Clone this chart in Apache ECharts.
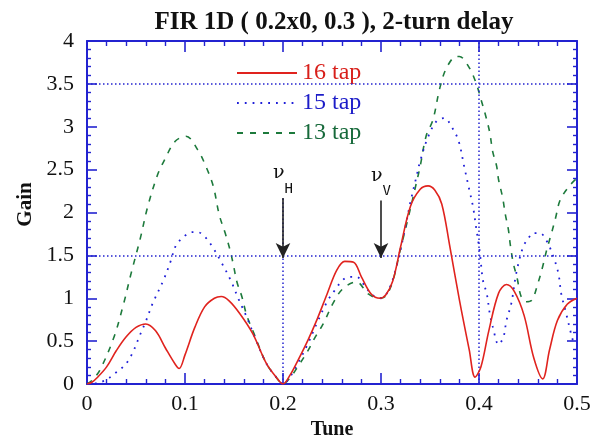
<!DOCTYPE html>
<html><head><meta charset="utf-8">
<script src="https://cdn.jsdelivr.net/npm/echarts@6/dist/echarts.min.js"></script>
<style>html,body{margin:0;padding:0;background:#fff}#c{width:594px;height:441px}</style>
</head><body><div id="c"></div>
<script>
// ---- data ----
const titleText = 'FIR 1D ( 0.2x0, 0.3 ), 2-turn delay';
const seriesNames = ['16 tap', '15 tap', '13 tap'];
const xTicks = [0, 0.1, 0.2, 0.3, 0.4, 0.5];
const yTicks = [0, 0.5, 1, 1.5, 2, 2.5, 3, 3.5, 4];

const tune16 = [0, 0.005, 0.01, 0.02, 0.03, 0.04, 0.05, 0.06, 0.07, 0.08, 0.09, 0.094, 0.10, 0.11, 0.12, 0.13, 0.137, 0.145, 0.156, 0.169, 0.183, 0.193, 0.2, 0.207, 0.215, 0.225, 0.235, 0.245, 0.255, 0.263, 0.272, 0.28, 0.29, 0.299, 0.305, 0.312, 0.32, 0.33, 0.34, 0.348, 0.355, 0.362, 0.37, 0.38, 0.39, 0.396, 0.402, 0.41, 0.42, 0.428, 0.436, 0.446, 0.456, 0.465, 0.472, 0.48, 0.49, 0.5];
const gain16 = [0, 0.02, 0.07, 0.2, 0.39, 0.55, 0.66, 0.70, 0.62, 0.42, 0.23, 0.18, 0.34, 0.66, 0.90, 1.0, 1.02, 0.97, 0.82, 0.59, 0.24, 0.08, 0, 0.1, 0.27, 0.5, 0.76, 1.05, 1.33, 1.43, 1.42, 1.25, 1.05, 1.0, 1.04, 1.2, 1.6, 2.07, 2.27, 2.31, 2.26, 2.1, 1.62, 0.98, 0.4, 0.08, 0.2, 0.62, 1.06, 1.16, 1.08, 0.8, 0.3, 0.06, 0.4, 0.74, 0.93, 1.0];

const tune15 = [0, 0.01, 0.02, 0.028, 0.035, 0.042, 0.048, 0.054, 0.06, 0.067, 0.078, 0.085, 0.091, 0.1, 0.107, 0.113, 0.12, 0.128, 0.138, 0.147, 0.155, 0.163, 0.17, 0.183, 0.193, 0.2, 0.207, 0.215, 0.225, 0.235, 0.245, 0.252, 0.26, 0.267, 0.275, 0.283, 0.291, 0.3, 0.308, 0.316, 0.324, 0.33, 0.336, 0.34, 0.348, 0.357, 0.365, 0.372, 0.379, 0.385, 0.39, 0.394, 0.397, 0.399, 0.401, 0.404, 0.408, 0.411, 0.414, 0.42, 0.425, 0.428, 0.433, 0.438, 0.445, 0.45, 0.455, 0.462, 0.469, 0.476, 0.481, 0.484, 0.489, 0.493, 0.496, 0.5];
const gain15 = [0, 0.01, 0.05, 0.12, 0.18, 0.27, 0.4, 0.57, 0.73, 0.94, 1.21, 1.42, 1.62, 1.73, 1.77, 1.77, 1.72, 1.6, 1.4, 1.2, 0.98, 0.78, 0.58, 0.24, 0.08, 0, 0.08, 0.24, 0.46, 0.72, 0.96, 1.08, 1.2, 1.25, 1.25, 1.15, 1.04, 1.0, 1.1, 1.38, 1.78, 2.12, 2.41, 2.6, 2.88, 3.07, 3.10, 3.0, 2.84, 2.53, 2.27, 2.06, 1.83, 1.68, 1.52, 1.21, 1.05, 0.82, 0.67, 0.46, 0.55, 0.74, 0.94, 1.29, 1.6, 1.69, 1.76, 1.76, 1.67, 1.48, 1.29, 1.05, 0.82, 0.63, 0.51, 0.48];

const tune13 = [0, 0.005, 0.013, 0.027, 0.037, 0.045, 0.054, 0.062, 0.072, 0.079, 0.09, 0.101, 0.113, 0.122, 0.129, 0.135, 0.141, 0.146, 0.149, 0.153, 0.158, 0.163, 0.17, 0.183, 0.193, 0.2, 0.207, 0.215, 0.225, 0.233, 0.241, 0.251, 0.261, 0.275, 0.287, 0.298, 0.305, 0.312, 0.32, 0.328, 0.336, 0.34, 0.346, 0.353, 0.36, 0.367, 0.377, 0.38, 0.39, 0.397, 0.402, 0.407, 0.411, 0.414, 0.418, 0.42, 0.424, 0.427, 0.43, 0.432, 0.435, 0.439, 0.443, 0.448, 0.454, 0.46, 0.465, 0.469, 0.474, 0.478, 0.483, 0.493, 0.5];
const gain13 = [0, 0.04, 0.16, 0.53, 0.92, 1.29, 1.68, 2.07, 2.44, 2.61, 2.83, 2.89, 2.73, 2.52, 2.3, 1.97, 1.76, 1.56, 1.41, 1.19, 1.02, 0.8, 0.6, 0.24, 0.08, 0, 0.07, 0.2, 0.38, 0.55, 0.7, 0.94, 1.11, 1.19, 1.05, 1.0, 1.03, 1.2, 1.58, 1.95, 2.34, 2.54, 2.89, 3.08, 3.45, 3.69, 3.82, 3.82, 3.69, 3.51, 3.32, 3.12, 2.93, 2.71, 2.54, 2.38, 2.18, 1.97, 1.8, 1.62, 1.41, 1.23, 1.02, 0.96, 0.98, 1.17, 1.37, 1.56, 1.76, 1.93, 2.15, 2.32, 2.4];

// guide lines and tune markers
const hGuides = [1.5, 3.5];
const vGuideFull = 0.4;
const nuH = { tune: 0.2, from: 2.17, to: 1.47, sub: 'H' };
const nuV = { tune: 0.3, from: 2.14, to: 1.47, sub: 'V' };

// ---- styles ----
const serif = "'Liberation Serif', 'Times New Roman', serif";
const axisBlue = '#2323d0';
const colors = ['#e0231e', '#1f1fd8', '#1d7a3c'];
const textColors = ['#d81f1a', '#1c1cc8', '#16693a'];

const zip = (a, b) => a.map((v, i) => [v, b[i]]);

const chart = echarts.init(document.getElementById('c'), null, { renderer: 'canvas' });

function axisCommon(pos, showLabel, isX) {
  return {
    type: 'value',
    position: pos,
    min: isX ? xTicks[0] : yTicks[0],
    max: isX ? xTicks[xTicks.length - 1] : yTicks[yTicks.length - 1],
    interval: isX ? xTicks[1] - xTicks[0] : yTicks[1] - yTicks[0],
    axisLine: { show: true, onZero: false, lineStyle: { color: axisBlue, width: 2 } },
    axisTick: { show: true, inside: true, length: isX ? 11 : 10, lineStyle: { color: axisBlue, width: 1.6 } },
    minorTick: { show: true, splitNumber: 5, length: isX ? 5 : 4, lineStyle: { color: axisBlue, width: 1.4 } },
    splitLine: { show: false },
    axisLabel: {
      show: showLabel, color: '#111', fontFamily: serif, fontSize: 22,
      margin: isX ? 9 : 13
    }
  };
}

function nuLine(m) {
  return [
    { coord: [m.tune, m.from], symbol: 'none',
      label: { show: true, position: 'start', distance: 2, formatter: '{n|ν}{s|' + m.sub + '}',
        rich: {
          n: { fontFamily: "'DejaVu Serif', serif", fontSize: 19, color: '#111', lineHeight: 20, verticalAlign: 'top' },
          s: { fontFamily: "'DejaVu Sans Mono', monospace", fontSize: 14, color: '#111', lineHeight: 32, verticalAlign: 'bottom' }
        } } },
    { coord: [m.tune, m.to], symbol: 'arrow' }
  ];
}

const lineCommon = { type: 'line', symbol: 'none', smooth: 0.35 };

const option = {
  animation: false,
  backgroundColor: '#fff',
  title: {
    text: titleText, left: 329, top: 5, textAlign: 'center',
    textStyle: { fontFamily: serif, fontSize: 25, fontWeight: 'bold', color: '#111' }
  },
  grid: { left: 87, right: 17, top: 41, bottom: 57, containLabel: false, outerBoundsMode: 'none' },
  legend: {
    orient: 'vertical', left: 221, top: 57,
    padding: [4, 17, 4, 15], itemGap: 6, itemWidth: 60, itemHeight: 14,
    backgroundColor: '#fff',
    itemStyle: { opacity: 0 },
    data: seriesNames.map((n, i) => ({ name: n, textStyle: { color: textColors[i] } })),
    textStyle: { fontFamily: serif, fontSize: 24 }
  },
  xAxis: [
    Object.assign(axisCommon('bottom', true, true), {
      name: 'Tune', nameLocation: 'middle', nameGap: 35,
      nameTextStyle: { fontFamily: serif, fontSize: 20, fontWeight: 'bold', color: '#111' }
    }),
    axisCommon('top', false, true)
  ],
  yAxis: [
    Object.assign(axisCommon('left', true, false), {
      name: 'Gain', nameLocation: 'middle', nameGap: 50,
      nameTextStyle: { fontFamily: serif, fontSize: 21, fontWeight: 'bold', color: '#111', padding: [0, 0, 0, 16] }
    }),
    axisCommon('right', false, false)
  ],
  series: [
    Object.assign({ name: seriesNames[0], data: zip(tune16, gain16), z: 5,
      lineStyle: { color: colors[0], width: 1.6 }, itemStyle: { color: colors[0] } }, lineCommon),
    Object.assign({ name: seriesNames[1], data: zip(tune15, gain15), z: 4,
      lineStyle: { color: colors[1], width: 1.8, type: [1.8, 6] }, itemStyle: { color: colors[1] } }, lineCommon),
    Object.assign({ name: seriesNames[2], data: zip(tune13, gain13), z: 3,
      lineStyle: { color: colors[2], width: 1.6, type: [6, 7] }, itemStyle: { color: colors[2] } }, lineCommon),
    { name: 'guides', type: 'line', data: [], z: 1,
      markLine: {
        silent: true, symbol: 'none', animation: false,
        lineStyle: { color: axisBlue, type: [1.5, 2.5], width: 1.5 },
        label: { show: false },
        data: hGuides.map(g => [{ coord: [xTicks[0], g] }, { coord: [xTicks[xTicks.length - 1], g] }])
          .concat([[{ coord: [vGuideFull, yTicks[0]] }, { coord: [vGuideFull, yTicks[yTicks.length - 1]] }],
                   [{ coord: [nuH.tune, yTicks[0]] }, { coord: [nuH.tune, nuH.from] }]])
      } },
    { name: 'markers', type: 'line', data: [], z: 6,
      markLine: {
        silent: true, animation: false, symbolSize: [11, 15],
        lineStyle: { color: '#222', type: 'solid', width: 1.6 },
        data: [nuLine(nuH), nuLine(nuV)]
      } }
  ]
};
chart.setOption(option);
</script>
</body></html>
